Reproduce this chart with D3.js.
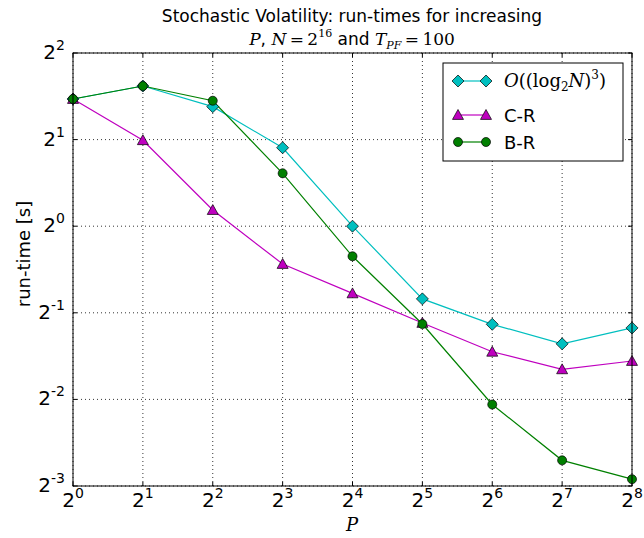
<!DOCTYPE html>
<html><head><meta charset="utf-8">
<script src="https://cdn.jsdelivr.net/npm/d3@7"></script>
<style>body{margin:0;background:#fff}svg{display:block}</style>
</head><body><svg id="c" width="644" height="538" font-family="DejaVu Sans, sans-serif"></svg>
<script>
const P = [1, 2, 4, 8, 16, 32, 64, 128, 256];
const seriesNames = ["O((log2N)^3)", "C-R", "B-R"];
const logCube = [2.768, 3.071, 2.603, 1.874, 1.0, 0.559, 0.456, 0.390, 0.443];
const cr = [2.768, 1.99, 1.138, 0.739, 0.584, 0.461, 0.366, 0.318, 0.340];
const br = [2.768, 3.071, 2.730, 1.527, 0.786, 0.457, 0.240, 0.1535, 0.132];
const xTickExps = [0, 1, 2, 3, 4, 5, 6, 7, 8];
const yTickExps = [-3, -2, -1, 0, 1, 2];

const svg = d3.select("#c");
const L = 73, R = 632, T = 53, B = 486;
const x = d3.scaleLog().base(2).domain([1, 256]).range([L, R]);
const y = d3.scaleLog().base(2).domain([0.125, 4]).range([B, T]);
const SERIF = "DejaVu Serif, serif";

const series = [
  {name: seriesNames[0], vals: logCube, color: "#00bfbf", marker: "diamond"},
  {name: seriesNames[1], vals: cr, color: "#bf00bf", marker: "triangle"},
  {name: seriesNames[2], vals: br, color: "#008000", marker: "circle"}
];

// grid
const g = svg.append("g");
xTickExps.forEach(e => {
  const px = x(Math.pow(2, e));
  g.append("line").attr("x1", px).attr("x2", px).attr("y1", T).attr("y2", B)
    .attr("stroke", "#000").attr("stroke-width", 0.8).attr("stroke-dasharray", "1,3");
  g.append("line").attr("x1", px).attr("x2", px).attr("y1", B).attr("y2", B - 4).attr("stroke", "#000");
  g.append("line").attr("x1", px).attr("x2", px).attr("y1", T).attr("y2", T + 4).attr("stroke", "#000");
  const t = svg.append("text").attr("x", px).attr("y", 507).attr("text-anchor", "middle").attr("font-size", 20);
  t.append("tspan").text("2");
  t.append("tspan").attr("dy", -9).attr("font-size", 14).text(e);
});
yTickExps.forEach(e => {
  const py = y(Math.pow(2, e));
  g.append("line").attr("x1", L).attr("x2", R).attr("y1", py).attr("y2", py)
    .attr("stroke", "#000").attr("stroke-width", 0.8).attr("stroke-dasharray", "1,3");
  g.append("line").attr("x1", L).attr("x2", L + 4).attr("y1", py).attr("y2", py).attr("stroke", "#000");
  g.append("line").attr("x1", R).attr("x2", R - 4).attr("y1", py).attr("y2", py).attr("stroke", "#000");
  const t = svg.append("text").attr("x", 65).attr("y", py + 6).attr("text-anchor", "end").attr("font-size", 20);
  t.append("tspan").text("2");
  t.append("tspan").attr("dy", -9).attr("font-size", 14).text(e < 0 ? "-" + (-e) : e);
});

function drawMarker(sel, type, cx, cy, color) {
  if (type === "diamond") {
    const r = 6;
    sel.append("path").attr("d", `M${cx},${cy - r}L${cx + r},${cy}L${cx},${cy + r}L${cx - r},${cy}Z`)
      .attr("fill", color).attr("stroke", "#000").attr("stroke-width", 0.7);
  } else if (type === "triangle") {
    const r = 5.5;
    sel.append("path").attr("d", `M${cx},${cy - r}L${cx + r},${cy + r * 0.8}L${cx - r},${cy + r * 0.8}Z`)
      .attr("fill", color).attr("stroke", "#000").attr("stroke-width", 0.7);
  } else {
    sel.append("circle").attr("cx", cx).attr("cy", cy).attr("r", 4.5)
      .attr("fill", color).attr("stroke", "#000").attr("stroke-width", 0.7);
  }
}

const plot = svg.append("g");
const line = d3.line().x((d, i) => x(P[i])).y(d => y(d));
series.forEach(s => {
  plot.append("path").attr("d", line(s.vals)).attr("fill", "none").attr("stroke", s.color).attr("stroke-width", 1.2);
});
series.forEach(s => {
  s.vals.forEach((v, i) => drawMarker(plot, s.marker, x(P[i]), y(v), s.color));
});

// frame
svg.append("rect").attr("x", L).attr("y", T).attr("width", R - L).attr("height", B - T)
  .attr("fill", "none").attr("stroke", "#000").attr("stroke-width", 1);

// legend
const lg = svg.append("g");
lg.append("rect").attr("x", 443).attr("y", 63).attr("width", 180).attr("height", 98)
  .attr("fill", "#fff").attr("stroke", "#000").attr("stroke-width", 1);
const ly = [81, 115, 142];
series.forEach((s, i) => {
  lg.append("line").attr("x1", 458).attr("x2", 486).attr("y1", ly[i]).attr("y2", ly[i]).attr("stroke", s.color).attr("stroke-width", 1.2);
  drawMarker(lg, s.marker, 458, ly[i], s.color);
  drawMarker(lg, s.marker, 486, ly[i], s.color);
});
const l0 = lg.append("text").attr("x", 504).attr("y", ly[0] + 6).attr("font-size", 18).style("font-family", SERIF);
l0.append("tspan").attr("font-style", "italic").text("O");
l0.append("tspan").text("((log");
l0.append("tspan").attr("font-size", 12).attr("dy", 4).text("2");
l0.append("tspan").attr("font-style", "italic").attr("dy", -4).text("N");
l0.append("tspan").text(")");
l0.append("tspan").attr("font-size", 12).attr("dy", -8).text("3");
l0.append("tspan").attr("dy", 8).text(")");
lg.append("text").attr("x", 504).attr("y", ly[1] + 7).attr("font-size", 18).text(seriesNames[1]);
lg.append("text").attr("x", 504).attr("y", ly[2] + 7).attr("font-size", 18).text(seriesNames[2]);

// title
svg.append("text").attr("x", 352).attr("y", 22).attr("text-anchor", "middle").attr("font-size", 17)
  .text("Stochastic Volatility: run-times for increasing");
const t2 = svg.append("text").attr("x", 352).attr("y", 45).attr("text-anchor", "middle").attr("font-size", 17);
t2.append("tspan").style("font-family", SERIF).attr("font-style", "italic").text("P");
t2.append("tspan").text(", ");
t2.append("tspan").style("font-family", SERIF).attr("font-style", "italic").text("N");
t2.append("tspan").style("font-family", SERIF).text("\u2009=\u20092");
t2.append("tspan").style("font-family", SERIF).attr("font-size", 11).attr("dy", -8).text("16");
t2.append("tspan").attr("dy", 8).text(" and ");
t2.append("tspan").style("font-family", SERIF).attr("font-style", "italic").text("T");
t2.append("tspan").style("font-family", SERIF).attr("font-style", "italic").attr("font-size", 11).attr("dy", 4).text("PF");
t2.append("tspan").style("font-family", SERIF).attr("dy", -4).text("\u2009=\u2009100");

// axis labels
svg.append("text").attr("transform", "translate(30,254) rotate(-90)").attr("text-anchor", "middle")
  .attr("font-size", 18).text("run-time [s]");
svg.append("text").attr("x", 352).attr("y", 531).attr("text-anchor", "middle").attr("font-size", 18)
  .style("font-family", SERIF).attr("font-style", "italic").text("P");
</script></body></html>
